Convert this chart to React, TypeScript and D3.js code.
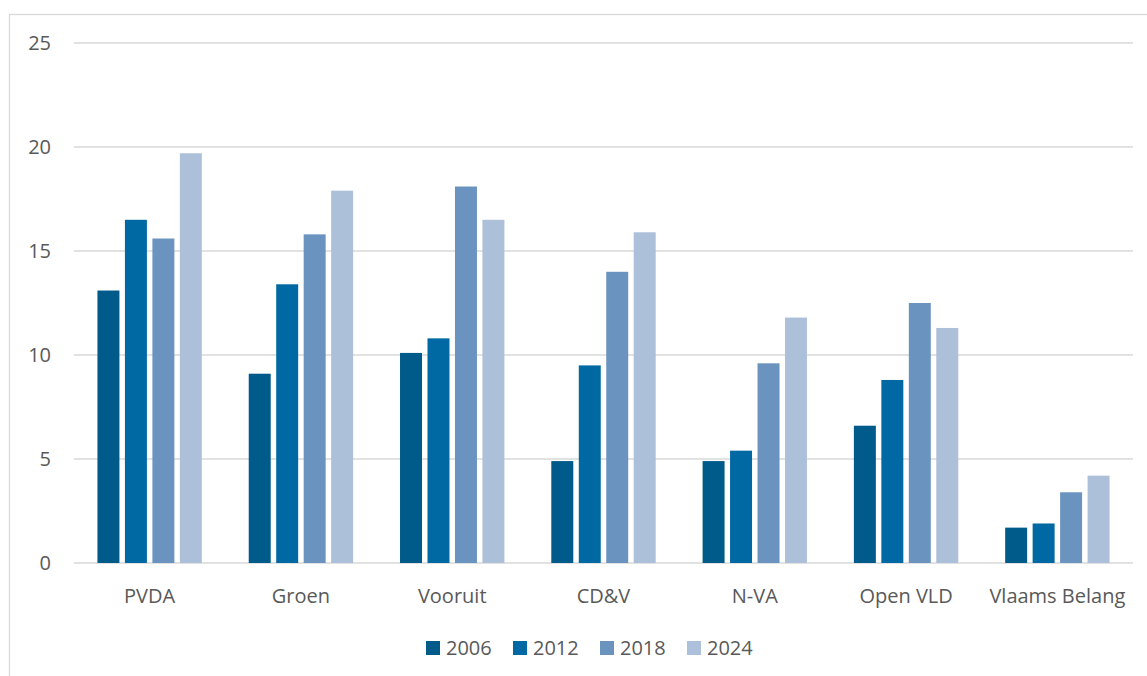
import React from "react";
import * as d3 from "d3";

const parties = ["PVDA", "Groen", "Vooruit", "CD&V", "N-VA", "Open VLD", "Vlaams Belang"];
const years = ["2006", "2012", "2018", "2024"];
const v2006 = [13.1, 9.1, 10.1, 4.9, 4.9, 6.6, 1.7];
const v2012 = [16.5, 13.4, 10.8, 9.5, 5.4, 8.8, 1.9];
const v2018 = [15.6, 15.8, 18.1, 14.0, 9.6, 12.5, 3.4];
const v2024 = [19.7, 17.9, 16.5, 15.9, 11.8, 11.3, 4.2];
const yTicks = [0, 5, 10, 15, 20, 25];

const series = [v2006, v2012, v2018, v2024];
const colors = ["#005a8a", "#0068a2", "#6a93bf", "#adc0d9"];

const W = 1147;
const H = 676;
const margin = { left: 74, right: 14, top: 43, bottom: 113 };
const font = "'Open Sans', 'Liberation Sans', sans-serif";
const textColor = "#595959";

export default function App() {
  const x = d3
    .scaleBand<string>()
    .domain(parties)
    .range([margin.left, W - margin.right])
    .paddingInner(0.31)
    .paddingOuter(0.155);
  const x1 = d3
    .scaleBand<string>()
    .domain(years)
    .range([0, x.bandwidth()])
    .paddingInner(0.2);
  const y = d3
    .scaleLinear()
    .domain([0, 25])
    .range([H - margin.bottom, margin.top]);

  const legendX = [426, 513, 600, 687];

  return (
    <svg
      width={W}
      height={H}
      style={{ position: "absolute", left: 0, top: 0, background: "#fff" }}
    >
      {/* chart frame, cut off at the right and bottom */}
      <rect x={9.5} y={14.5} width={W + 20} height={H + 20} fill="#fff" stroke="#d9d9d9" strokeWidth={1.3} />

      {yTicks.map((t) => (
        <g key={t}>
          <line
            x1={margin.left}
            x2={W - margin.right}
            y1={y(t)}
            y2={y(t)}
            stroke="#d9d9d9"
            strokeWidth={1.5}
          />
          <text
            x={51}
            y={y(t)}
            dy="0.36em"
            textAnchor="end"
            fontFamily={font}
            fontSize={20}
            fill={textColor}
          >
            {t}
          </text>
        </g>
      ))}

      {parties.map((p, i) => (
        <g key={p} transform={`translate(${x(p)},0)`}>
          {series.map((s, j) => (
            <rect
              key={years[j]}
              x={x1(years[j])}
              y={y(s[i])}
              width={x1.bandwidth()}
              height={y(0) - y(s[i])}
              fill={colors[j]}
            />
          ))}
        </g>
      ))}

      {parties.map((p) => (
        <text
          key={p}
          x={(x(p) ?? 0) + x.bandwidth() / 2}
          y={603}
          textAnchor="middle"
          fontFamily={font}
          fontSize={20}
          fill={textColor}
        >
          {p}
        </text>
      ))}

      {years.map((yr, j) => (
        <g key={yr} transform={`translate(${legendX[j]},641)`}>
          <rect width={14} height={14} fill={colors[j]} />
          <text x={20} y={7} dy="0.36em" fontFamily={font} fontSize={20} fill={textColor}>
            {yr}
          </text>
        </g>
      ))}
    </svg>
  );
}
